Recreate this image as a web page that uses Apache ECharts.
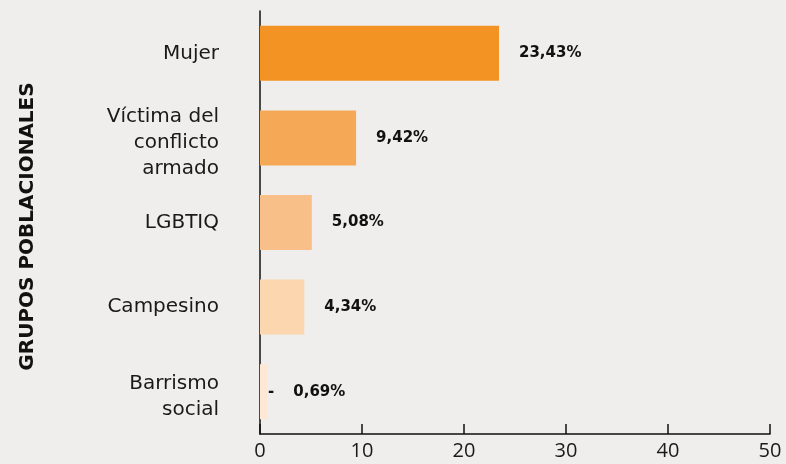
<!DOCTYPE html>
<html>
<head>
<meta charset="utf-8">
<script src="https://cdn.jsdelivr.net/npm/echarts@6/dist/echarts.min.js"></script>
<style>
  html, body { margin: 0; padding: 0; background: #efeeec; }
  #chart { width: 786px; height: 464px; }
</style>
</head>
<body>
<div id="chart"></div>
<script>
const categories = ['Mujer', 'Víctima del\nconflicto\narmado', 'LGBTIQ', 'Campesino', 'Barrismo\nsocial']
const values = [23.43, 9.42, 5.08, 4.34, 0.69]
const barColors = ['#f39323', '#f5a957', '#f8c088', '#fbd6ae', '#fde8d6']
const xTicks = [0, 10, 20, 30, 40, 50]

const chart = echarts.init(document.getElementById('chart'))

const fmt = (v) => v.toFixed(2).replace('.', ',') + '%'

// las etiquetas de varias líneas van un poco más abajo: se añade una línea vacía arriba
const catLabel = (v) => {
    if (!v.includes('\n')) return v
    return '{s| }\n' + v.split('\n').map(l => '{m|' + l + '}').join('\n')
}

const seriesData = values.map((v, i) => {
    const item = { value: v, itemStyle: { color: barColors[i] } }
    // la barra más pequeña lleva un guion antes de la etiqueta
    if (i === values.length - 1) {
        item.label = { distance: 1, formatter: (p) => '{d|-}{v|' + fmt(p.value) + '}' }
    }
    return item
})

chart.setOption({
    backgroundColor: '#efeeec',
    grid: { left: 260, right: 16, top: 11, bottom: 30, containLabel: false },
    xAxis: {
        type: 'value',
        min: xTicks[0],
        max: xTicks[xTicks.length - 1],
        interval: 10,
        splitLine: { show: false },
        axisLine: { show: true, lineStyle: { color: '#111', width: 1.5 } },
        axisTick: { show: true, inside: true, length: 10, lineStyle: { color: '#111', width: 1.5 } },
        axisLabel: { fontFamily: 'Open Sans', fontSize: 20, color: '#1a1a1a', margin: 7 }
    },
    yAxis: {
        type: 'category',
        inverse: true,
        data: categories,
        name: 'GRUPOS POBLACIONALES',
        nameLocation: 'middle',
        nameGap: 222,
        nameRotate: 90,
        nameTextStyle: { fontFamily: 'DejaVu Sans', fontWeight: 'bold', fontSize: 20, color: '#111', padding: [0, 8, 0, 0] },
        axisLine: { show: true, lineStyle: { color: '#111', width: 1.5 } },
        axisTick: { show: false },
        axisLabel: {
            fontFamily: 'DejaVu Sans', fontSize: 20, color: '#1a1a1a', margin: 41, lineHeight: 26, align: 'right',
            formatter: catLabel,
            rich: {
                s: { fontSize: 4, lineHeight: 10 },
                m: { fontFamily: 'DejaVu Sans', fontSize: 20, lineHeight: 26, color: '#1a1a1a' }
            }
        }
    },
    series: [{
        type: 'bar',
        data: seriesData,
        barWidth: 55,
        label: {
            show: true,
            position: 'right',
            distance: 20,
            fontFamily: 'DejaVu Sans',
            fontWeight: 'bold',
            fontSize: 15,
            color: '#111',
            formatter: (p) => fmt(p.value),
            rich: {
                d: { fontSize: 15, color: '#111', padding: [0, 19, 0, 0] },
                v: { fontFamily: 'DejaVu Sans', fontWeight: 'bold', fontSize: 15, color: '#111' }
            }
        }
    }]
})
</script>
</body>
</html>
